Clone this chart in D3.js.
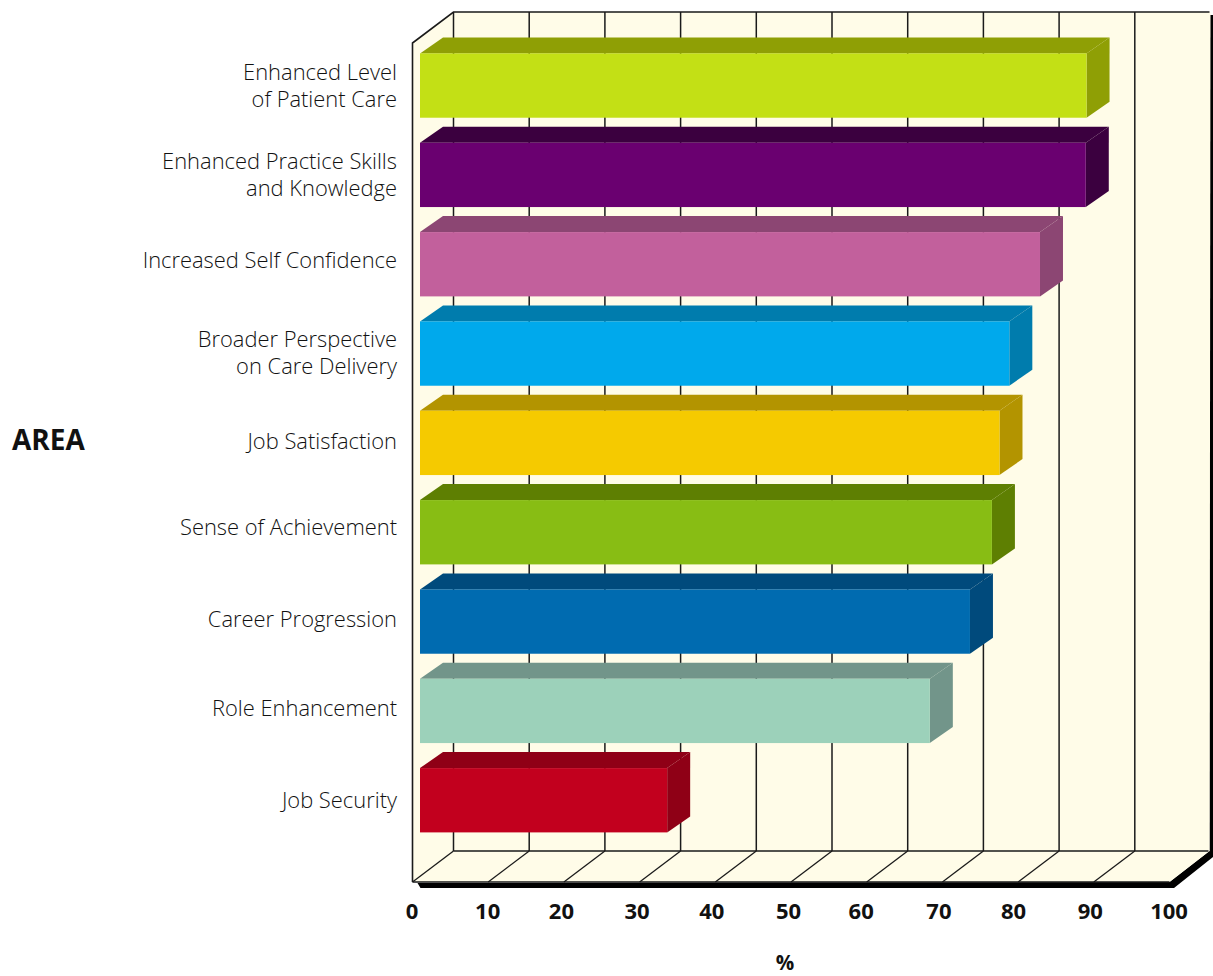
<!DOCTYPE html>
<html>
<head>
<meta charset="utf-8">
<script src="https://cdn.jsdelivr.net/npm/d3@7/dist/d3.min.js"></script>
<style>
html,body{margin:0;padding:0;background:#fff}
svg{display:block}
text{font-family:"Open Sans","Noto Sans",sans-serif;fill:#111}
</style>
</head>
<body>
<svg id="c" width="1213" height="976"></svg>
<script>
const categories = ["Enhanced Level\nof Patient Care","Enhanced Practice Skills\nand Knowledge","Increased Self Confidence","Broader Perspective\non Care Delivery","Job Satisfaction","Sense of Achievement","Career Progression","Role Enhancement","Job Security"];
const values = [88.05,87.95,81.9,77.85,76.55,75.55,72.65,67.35,32.65];
const faceColors = ["#C3E015","#6A0070","#C2609C","#00A9EC","#F5CA00","#88BD14","#006BB0","#9CD1BA","#C2001E"];
const sideColors = ["#8F9F05","#3B003F","#8C4673","#007CAD","#B39400","#5E7F02","#004A7C","#72958A","#8F0016"];
const labelNudge = [0,0,-4,-0.5,-1,-5,-2.5,-2,0];
const ticks = [0,10,20,30,40,50,60,70,80,90,100];
const tickNudge = [-1,-1,-3,-3,-4,-3,-6,-4,-5,-4,-1];

const svg = d3.select("#c");
const x = d3.scaleLinear().domain([0,100]).range([412.5,1169.5]);
const y = d3.scaleBand().domain(categories).range([53.4,832.4]).paddingInner(0.28);
const wallDx = 41, wallDy = 31, wallTop = 12, floorY = 882;
const barInset = 7.5, barDx = 23, barDy = 16;
const bx = v => x(v) + barInset;
const path = pts => "M" + pts.map(p => p.join(",")).join("L") + "Z";
const ink = "#1a1a1a";

// black extrusion below and right of the box
svg.append("path").attr("fill","#000").attr("d",path([
  [x(0)+5,floorY+1],[x(0)+8,floorY+6],[x(100)+4.5,floorY+6],[1213,857],[1213,15],[x(100)+wallDx-1,15],[x(100)+wallDx-1,floorY-wallDy],[x(100),floorY]
]));
// walls and floor
svg.append("path").attr("fill","#FFFCE8").attr("d",path([
  [x(0),wallTop+wallDy],[x(0)+wallDx,wallTop],[x(100)+wallDx,wallTop],[x(100)+wallDx-1,floorY-wallDy],[x(100),floorY],[x(0),floorY]
]));
const gridTicks = ticks.slice(0,-1);
svg.append("g").selectAll("line").data(gridTicks).join("line")
  .attr("x1",d=>x(d)+wallDx).attr("x2",d=>x(d)+wallDx).attr("y1",wallTop).attr("y2",floorY-wallDy)
  .attr("stroke",ink).attr("stroke-width",1.5);
svg.append("g").selectAll("line").data(gridTicks).join("line")
  .attr("x1",d=>x(d)).attr("x2",d=>x(d)+wallDx).attr("y1",floorY).attr("y2",floorY-wallDy)
  .attr("stroke",ink).attr("stroke-width",1.3);
svg.append("path").attr("fill","none").attr("stroke",ink).attr("stroke-width",1.6)
  .attr("d",`M${x(0)},${floorY}V${wallTop+wallDy}L${x(0)+wallDx},${wallTop}H${x(100)+wallDx-1}`);
svg.append("path").attr("fill","none").attr("stroke",ink).attr("stroke-width",1.6)
  .attr("d",`M${x(0)},${floorY}H${x(100)}M${x(0)+wallDx},${floorY-wallDy}H${x(100)+wallDx-2}`);

// bars
const bars = svg.append("g").selectAll("g").data(categories).join("g");
bars.append("path").attr("fill",(d,i)=>sideColors[i]).attr("d",(d,i)=>{
  const t=y(d), r=bx(values[i]), l=bx(0);
  return path([[l,t],[l+barDx,t-barDy],[r+barDx,t-barDy],[r,t]]);
});
bars.append("path").attr("fill",(d,i)=>sideColors[i]).attr("d",(d,i)=>{
  const t=y(d), r=bx(values[i]), b=t+y.bandwidth();
  return path([[r,t],[r+barDx,t-barDy],[r+barDx,b-barDy],[r,b]]);
});
bars.append("rect").attr("x",bx(0)).attr("y",d=>y(d))
  .attr("width",(d,i)=>bx(values[i])-bx(0)).attr("height",y.bandwidth())
  .attr("fill",(d,i)=>faceColors[i]);

// category labels
const lineH = 27;
const labels = svg.append("g").selectAll("text").data(categories).join("text")
  .attr("text-anchor","end").attr("font-size",21.9).attr("font-weight",300);
labels.each(function(d,i){
  const lines = d.split("\n");
  const cy = y(d)+y.bandwidth()/2+labelNudge[i];
  d3.select(this).selectAll("tspan").data(lines).join("tspan")
    .attr("x",397).attr("y",(l,j)=>cy+7.5+(j-(lines.length-1)/2)*lineH).text(l=>l);
});

// value axis
const axis = d3.axisBottom(x).tickValues(ticks).tickSize(0).tickPadding(0).tickFormat(d3.format("d"));
const ag = svg.append("g").attr("transform","translate(0,903)").call(axis);
ag.select(".domain").remove();
ag.selectAll("text").attr("font-size",22).attr("font-weight",700).attr("dy","0.71em").attr("y",0)
  .attr("dx",(d,i)=>tickNudge[i]);

svg.append("text").attr("x",785).attr("y",970).attr("text-anchor","middle").attr("font-size",20.5).attr("font-weight",700).text("%");
svg.append("text").attr("x",12).attr("y",450).attr("font-size",28).attr("font-weight",700).text("AREA");
</script>
</body>
</html>
